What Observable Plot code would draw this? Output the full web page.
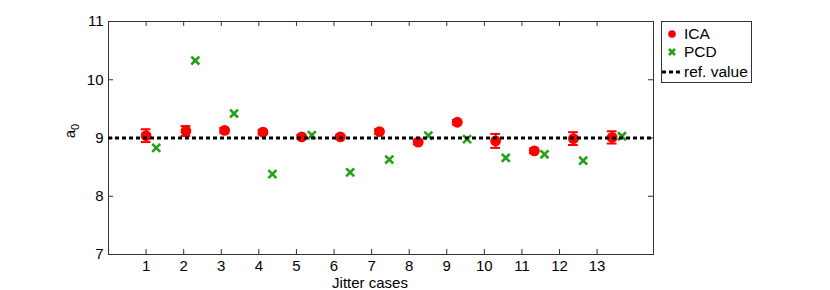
<!DOCTYPE html>
<html><head><meta charset="utf-8">
<script src="https://cdn.jsdelivr.net/npm/d3@7"></script>
<script src="https://cdn.jsdelivr.net/npm/@observablehq/plot@0.6"></script>
<style>
body{margin:0;background:#fff;font-family:"Liberation Sans",Arial,sans-serif;}
#wrap{position:relative;width:830px;height:290px;}
#legend{position:absolute;left:661px;top:21px;width:89px;height:60px;border:1px solid #333;background:#fff;font-size:15.5px;}
#legend .row{position:absolute;left:0;height:18px;line-height:18px;}
#legend .lab{position:absolute;left:22px;top:0;white-space:nowrap;}
#ylab{position:absolute;left:71px;top:131px;transform:translate(-50%,-50%) rotate(-90deg);font-size:15px;white-space:nowrap;}
#ylab sub{font-size:11px;}
#xlab{position:absolute;left:370px;top:275px;transform:translateX(-50%);font-size:15px;line-height:15px;white-space:nowrap;}
</style>
</head><body>
<div id="wrap"></div>
<script>
const caseTicks = [1,2,3,4,5,6,7,8,9,10,11,12,13];
const yTicks = [7,8,9,10,11];
const icaX = [1.00,2.06,3.09,4.11,5.14,6.17,7.21,8.24,9.28,10.30,11.33,12.37,13.40];
const icaY = [9.04,9.12,9.13,9.10,9.02,9.02,9.11,8.93,9.27,8.95,8.78,8.99,9.01];
const icaErr = [0.11,0.085,0.04,0.04,0.03,0.03,0.04,0.04,0.04,0.12,0.04,0.11,0.105];
const pcdX = [1.27,2.31,3.34,4.36,5.41,6.43,7.47,8.51,9.54,10.57,11.60,12.63,13.66];
const pcdY = [8.83,10.33,9.42,8.38,9.05,8.41,8.63,9.04,8.98,8.66,8.72,8.61,9.03];
const refValue = 9;
const seriesNames = ["ICA","PCD","ref. value"];
const xLabel = "Jitter cases";

const red = "#ff0000", green = "#22a214";
const ica = icaX.map((x,i)=>({x, y:icaY[i], lo:icaY[i]-icaErr[i], hi:icaY[i]+icaErr[i]}));
const pcd = pcdX.map((x,i)=>({x, y:pcdY[i]}));

const mL=108, mR=177, mT=21, mB=36, W=830, H=290;
const fW = W-mL-mR, fH = H-mT-mB, tk = 5;

const chart = Plot.plot({
  width:W, height:H, marginLeft:mL, marginRight:mR, marginTop:mT, marginBottom:mB,
  style:{fontFamily:'"Liberation Sans",Arial,sans-serif', fontSize:"15px", color:"#000", background:"transparent"},
  x:{domain:[0,14.5]},
  y:{domain:[7,11]},
  marks:[
    Plot.axisX(caseTicks,{tickSize:0, tickPadding:6, label:null, fontSize:15, tickFormat:"d"}),
    Plot.axisY(yTicks,{tickSize:0, tickPadding:5, label:null, fontSize:15, tickFormat:"d"}),
    Plot.tickX(caseTicks,{x:d=>d, insetTop:fH-tk, stroke:"#333"}),
    Plot.tickX(caseTicks,{x:d=>d, insetBottom:fH-tk, stroke:"#333"}),
    Plot.tickY(yTicks,{y:d=>d, insetRight:fW-tk, stroke:"#333"}),
    Plot.tickY(yTicks,{y:d=>d, insetLeft:fW-tk, stroke:"#333"}),
    Plot.frame({stroke:"#333"}),
    Plot.ruleX(ica,{x:"x", y1:"lo", y2:"hi", stroke:red, strokeWidth:2}),
    Plot.ruleY(ica,{y:"lo", x1:d=>d.x-0.13, x2:d=>d.x+0.13, stroke:red, strokeWidth:2}),
    Plot.ruleY(ica,{y:"hi", x1:d=>d.x-0.13, x2:d=>d.x+0.13, stroke:red, strokeWidth:2}),
    Plot.dot(ica,{x:"x", y:"y", r:5.4, fill:red}),
    Plot.dot(pcd,{x:"x", y:"y", symbol:"times", r:3.7, stroke:green, strokeWidth:2.6}),
    Plot.ruleY([refValue],{stroke:"#000", strokeWidth:3, strokeDasharray:"4,3"})
  ]
});
const wrap = document.getElementById("wrap");
wrap.appendChild(chart);

// legend
const leg = document.createElement("div"); leg.id="legend";
const rows = [
  {name:seriesNames[0], top:3, svg:`<svg width="22" height="18"><circle cx="10" cy="9" r="3.8" fill="${red}"/></svg>`},
  {name:seriesNames[1], top:21, svg:`<svg width="22" height="18"><path d="M7,6L13,12M13,6L7,12" stroke="${green}" stroke-width="2.5"/></svg>`},
  {name:seriesNames[2], top:41, svg:`<svg width="22" height="18"><line x1="0" x2="19" y1="9" y2="9" stroke="#000" stroke-width="3" stroke-dasharray="4,3"/></svg>`}
];
for (const r of rows){
  const d=document.createElement("div"); d.className="row"; d.style.top=r.top+"px";
  d.innerHTML = r.svg.replace("<svg",'<svg style="position:absolute;left:0;top:0"') + `<span class="lab">${r.name}</span>`;
  d.style.width="89px";
  leg.appendChild(d);
}
wrap.appendChild(leg);

const yl=document.createElement("div"); yl.id="ylab"; yl.innerHTML="a<sub>0</sub>"; wrap.appendChild(yl);
const xl=document.createElement("div"); xl.id="xlab"; xl.textContent=xLabel; wrap.appendChild(xl);
</script>
</body></html>
